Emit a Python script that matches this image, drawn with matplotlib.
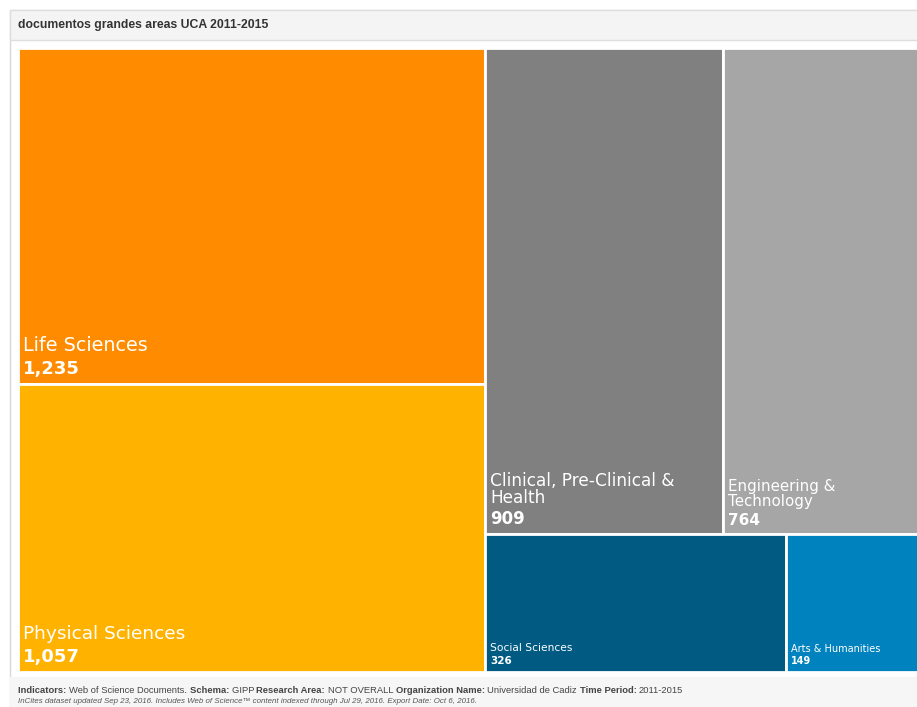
import matplotlib
matplotlib.use("Agg")
import matplotlib.pyplot as plt
from matplotlib.patches import Rectangle

plt.rcParams['font.family'] = ['Liberation Sans', 'DejaVu Sans']

categories = ["Life Sciences", "Physical Sciences", "Clinical, Pre-Clinical &\nHealth",
              "Engineering &\nTechnology", "Social Sciences", "Arts & Humanities"]
values = [1235, 1057, 909, 764, 326, 149]
value_labels = ["1,235", "1,057", "909", "764", "326", "149"]
colors = ["#FF8C00", "#FFB300", "#808080", "#A6A6A6", "#005A82", "#0082BE"]
name_sizes = [13.8, 13.3, 12.2, 10.8, 7.7, 7.0]
value_sizes = [13, 13, 12, 11, 7.5, 7]

W, H = 917, 707
fig = plt.figure(figsize=(W / 100, H / 100), dpi=100)
fig.patch.set_facecolor("white")

def px(x, y, w, h):
    return (x / W, 1 - (y + h) / H, w / W, h / H)

# panel frame and title bar
fig.patches.append(Rectangle((10 / W, 1 - 707 / H), 910 / W, 697 / H, transform=fig.transFigure,
                             facecolor="white", edgecolor="#d8d8d8", lw=1, zorder=-3))
fig.patches.append(Rectangle((10 / W, 1 - 40 / H), 910 / W, 30 / H, transform=fig.transFigure,
                             facecolor="#f4f4f4", edgecolor="#dedede", lw=1, zorder=-2))
fig.patches.append(Rectangle((10 / W, 0), 910 / W, 30 / H, transform=fig.transFigure,
                             facecolor="#f6f6f6", edgecolor="none", zorder=-2))
fig.text(18 / W, 1 - 25 / H, "documentos grandes areas UCA 2011-2015", fontsize=8.8,
         fontweight="bold", color="#333333", va="center", ha="left")

# treemap layout: two columns (left: Life/Physical, right: 2x2 rows)
total = sum(values)
left_vals = values[0:2]
top_vals = values[2:4]
bot_vals = values[4:6]
lw_frac = sum(left_vals) / total

rects = []
y = 0.0
for v in left_vals:
    h = v / sum(left_vals)
    rects.append((0.0, y, lw_frac, h))
    y += h
right_tot = sum(top_vals) + sum(bot_vals)
top_h = sum(top_vals) / right_tot
x = lw_frac
for v in top_vals:
    w = (1 - lw_frac) * v / sum(top_vals)
    rects.append((x, 0.0, w, top_h))
    x += w
x = lw_frac
for v in bot_vals:
    w = (1 - lw_frac) * v / sum(bot_vals)
    rects.append((x, top_h, w, 1 - top_h))
    x += w

ax = fig.add_axes(px(18, 48, 905, 624))
ax.set_xlim(0, 1)
ax.set_ylim(1, 0)
ax.axis("off")

for (rx, ry, rw, rh), name, val, c, ns, vs in zip(rects, categories, value_labels, colors,
                                                   name_sizes, value_sizes):
    ax.add_patch(Rectangle((rx, ry), rw, rh, facecolor=c, edgecolor="white", lw=2))
    ax.annotate(val, xy=(rx, ry + rh), xytext=(5, 6), textcoords="offset pixels",
                fontsize=vs, fontweight="bold", color="white", ha="left", va="bottom",
                family="DejaVu Sans")
    ax.annotate(name, xy=(rx, ry + rh), xytext=(5, 6 + vs * 1.75), textcoords="offset pixels",
                fontsize=ns, color="white", ha="left", va="bottom", linespacing=0.95,
                family="DejaVu Sans")

# footer with mixed bold/normal text
fig.canvas.draw()
renderer = fig.canvas.get_renderer()
pieces = [("Indicators: ", True), ("Web of Science Documents. ", False),
          ("Schema: ", True), ("GIPP ", False), ("Research Area: ", True),
          ("NOT OVERALL ", False), ("Organization Name: ", True),
          ("Universidad de Cadiz ", False), ("Time Period: ", True), ("2011-2015", False)]
xpos = 18
for txt, bold in pieces:
    t = fig.text(xpos / W, 1 - 693 / H, txt, fontsize=6.75, color="#444444",
                 fontweight="bold" if bold else "normal", va="baseline", ha="left")
    bb = t.get_window_extent(renderer)
    xpos += bb.width
fig.text(18 / W, 1 - 703 / H,
         "InCites dataset updated Sep 23, 2016. Includes Web of Science\u2122 content indexed through Jul 29, 2016. Export Date: Oct 6, 2016.",
         fontsize=5.7, style="italic", color="#555555", va="baseline", ha="left")

fig.savefig("out.png", dpi=100)
